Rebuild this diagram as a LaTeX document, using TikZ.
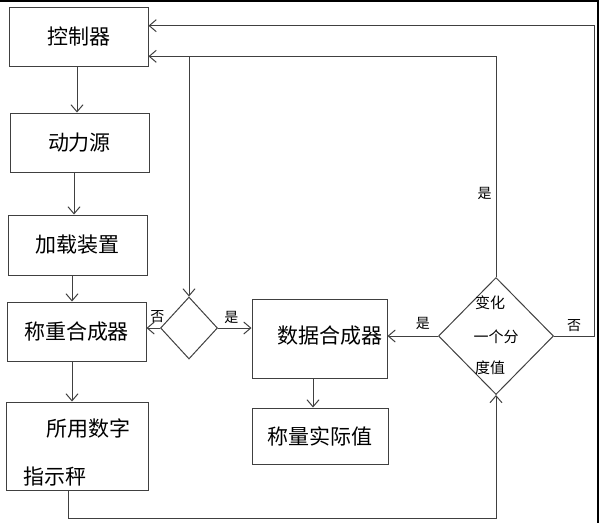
\documentclass[tikz,border=0pt]{standalone}
\usepackage{fontspec}
\setmainfont{Noto Sans CJK SC}
\usetikzlibrary{calc}
\usetikzlibrary{arrows.meta}
\usetikzlibrary{shapes.geometric}
\tikzset{
  box/.style={draw=black!75, line width=1pt, inner sep=0pt, font=\fontsize{21}{24}\selectfont},
  choice/.style={draw=black!75, line width=1pt, diamond, inner sep=0pt},
  lab/.style={font=\fontsize{14}{16}\selectfont, inner sep=0pt},
  flow/.style={draw=black!75, line width=1pt, ->, >={Straight Barb[length=7pt,width=12pt]}},
}
\begin{document}
\begin{tikzpicture}[x=1pt,y=-1pt]
\useasboundingbox (0,0) rectangle (603,523);
\draw[line width=1.5pt] (0,1) -- (598,1) -- (598,523);
% left column
\node[box, minimum width=139, minimum height=59] (ctrl) at (78.5,36.5) {控制器};
\node[box, minimum width=139, minimum height=59] (power) at (79.5,142.5) {动力源};
\node[box, minimum width=139, minimum height=60] (load) at (77.5,245) {加载装置};
\node[box, minimum width=139, minimum height=59] (weigh) at (76.5,331.5) {称重合成器};
\node[box, minimum width=142, minimum height=88] (disp) at (77,446) {};
\node[box, draw=none] (disptop) at (88,428) {所用数字};
\node[box, draw=none] (dispbot) at (55,477) {指示秤};
% middle and right
\node[choice, minimum width=57, minimum height=62] (dia1) at (189,328) {};
\node[box, minimum width=135, minimum height=79] (merge) at (319.5,338.5) {};
\node[box, draw=none] (mergetext) at (330,336) {数据合成器};
\node[box, minimum width=136, minimum height=56] (real) at (320,436) {称量实际值};
\node[choice, minimum width=115, minimum height=117] (dia2) at (496,336) {};
\node[lab, font=\fontsize{15}{17}\selectfont] (t1) at (490,303) {变化};
\node[lab, font=\fontsize{15}{17}\selectfont] (t2) at (496,337) {一个分};
\node[lab, font=\fontsize{15}{17}\selectfont] (t3) at (490,368) {度值};
% feedback points
\coordinate (inA) at ($(ctrl.north east)!0.32!(ctrl.south east)$);
\coordinate (inB) at ($(ctrl.north east)!0.83!(ctrl.south east)$);
\coordinate (farR) at (594,0);
\coordinate (br) at (dia1.north |- inB);
% arrows down the left column
\draw[flow] (ctrl.south -| 77,0) -- (power.north -| 77,0);
\draw[flow] (power.south -| 74,0) -- (load.north -| 74,0);
\draw[flow] (load.south -| 72,0) -- (weigh.north -| 72,0);
\draw[flow] (weigh.south -| 72,0) -- (disp.north -| 72,0);
\draw[flow] (disp.south -| 68,0) -- (68,518) -| (dia2.south);
% decisions
\draw[flow] (dia1.west) -- (weigh.east |- dia1.west) node[lab, pos=0.2, above=5pt] {否};
\draw[flow] (dia1.east) -- (merge.west |- dia1.east) node[lab, pos=0.4, above=4pt] {是};
\draw[flow] (dia2.west) -- (merge.east |- dia2.west) node[lab, pos=0.3, above=6pt] {是};
\draw[flow] (merge.south -| 313,0) -- (real.north -| 313,0);
\draw[flow] (dia2.north) |- (inB) node[lab, pos=0.19, left=4pt] {是};
\draw[flow] (dia2.east) -- (farR |- dia2.east) node[lab, midway, above=4pt] {否} |- (inA);
\draw[flow] (br) -- (dia1.north);
\end{tikzpicture}
\end{document}
